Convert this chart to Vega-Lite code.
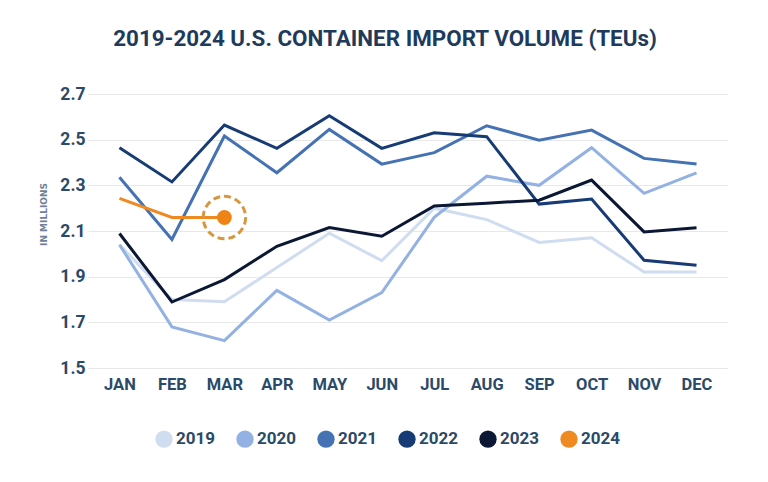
{
  "$schema": "https://vega.github.io/schema/vega-lite/v6.json",
  "width": 640,
  "height": 274,
  "autosize": {"type": "none"},
  "padding": {"left": 88, "top": 94, "right": 40, "bottom": 114},
  "background": "white",
  "title": {
    "text": "2019-2024 U.S. CONTAINER IMPORT VOLUME (TEUs)",
    "font": "Roboto, sans-serif",
    "fontSize": 22.4,
    "fontWeight": "bold",
    "color": "#1f3b5b",
    "anchor": "middle",
    "frame": "group",
    "dx": -23,
    "offset": 35
  },
  "config": {
    "view": {"stroke": null},
    "font": "Roboto, sans-serif"
  },
  "data": {
    "values": [
      {"year": "2019", "month": "JAN", "teu": 2.04},
      {"year": "2019", "month": "FEB", "teu": 1.80},
      {"year": "2019", "month": "MAR", "teu": 1.79},
      {"year": "2019", "month": "APR", "teu": 1.94},
      {"year": "2019", "month": "MAY", "teu": 2.09},
      {"year": "2019", "month": "JUN", "teu": 1.97},
      {"year": "2019", "month": "JUL", "teu": 2.20},
      {"year": "2019", "month": "AUG", "teu": 2.15},
      {"year": "2019", "month": "SEP", "teu": 2.05},
      {"year": "2019", "month": "OCT", "teu": 2.07},
      {"year": "2019", "month": "NOV", "teu": 1.92},
      {"year": "2019", "month": "DEC", "teu": 1.92},
      {"year": "2020", "month": "JAN", "teu": 2.04},
      {"year": "2020", "month": "FEB", "teu": 1.68},
      {"year": "2020", "month": "MAR", "teu": 1.62},
      {"year": "2020", "month": "APR", "teu": 1.84},
      {"year": "2020", "month": "MAY", "teu": 1.71},
      {"year": "2020", "month": "JUN", "teu": 1.83},
      {"year": "2020", "month": "JUL", "teu": 2.16},
      {"year": "2020", "month": "AUG", "teu": 2.34},
      {"year": "2020", "month": "SEP", "teu": 2.30},
      {"year": "2020", "month": "OCT", "teu": 2.465},
      {"year": "2020", "month": "NOV", "teu": 2.265},
      {"year": "2020", "month": "DEC", "teu": 2.355},
      {"year": "2021", "month": "JAN", "teu": 2.335},
      {"year": "2021", "month": "FEB", "teu": 2.063},
      {"year": "2021", "month": "MAR", "teu": 2.516},
      {"year": "2021", "month": "APR", "teu": 2.355},
      {"year": "2021", "month": "MAY", "teu": 2.545},
      {"year": "2021", "month": "JUN", "teu": 2.393},
      {"year": "2021", "month": "JUL", "teu": 2.443},
      {"year": "2021", "month": "AUG", "teu": 2.561},
      {"year": "2021", "month": "SEP", "teu": 2.498},
      {"year": "2021", "month": "OCT", "teu": 2.542},
      {"year": "2021", "month": "NOV", "teu": 2.418},
      {"year": "2021", "month": "DEC", "teu": 2.393},
      {"year": "2022", "month": "JAN", "teu": 2.465},
      {"year": "2022", "month": "FEB", "teu": 2.315},
      {"year": "2022", "month": "MAR", "teu": 2.564},
      {"year": "2022", "month": "APR", "teu": 2.462},
      {"year": "2022", "month": "MAY", "teu": 2.605},
      {"year": "2022", "month": "JUN", "teu": 2.462},
      {"year": "2022", "month": "JUL", "teu": 2.53},
      {"year": "2022", "month": "AUG", "teu": 2.513},
      {"year": "2022", "month": "SEP", "teu": 2.218},
      {"year": "2022", "month": "OCT", "teu": 2.24},
      {"year": "2022", "month": "NOV", "teu": 1.972},
      {"year": "2022", "month": "DEC", "teu": 1.95},
      {"year": "2023", "month": "JAN", "teu": 2.089},
      {"year": "2023", "month": "FEB", "teu": 1.789},
      {"year": "2023", "month": "MAR", "teu": 1.887},
      {"year": "2023", "month": "APR", "teu": 2.033},
      {"year": "2023", "month": "MAY", "teu": 2.115},
      {"year": "2023", "month": "JUN", "teu": 2.077},
      {"year": "2023", "month": "JUL", "teu": 2.21},
      {"year": "2023", "month": "AUG", "teu": 2.222},
      {"year": "2023", "month": "SEP", "teu": 2.235},
      {"year": "2023", "month": "OCT", "teu": 2.323},
      {"year": "2023", "month": "NOV", "teu": 2.096},
      {"year": "2023", "month": "DEC", "teu": 2.114},
      {"year": "2024", "month": "JAN", "teu": 2.243},
      {"year": "2024", "month": "FEB", "teu": 2.159},
      {"year": "2024", "month": "MAR", "teu": 2.159}
    ]
  },
  "encoding": {
    "x": {
      "field": "month",
      "type": "ordinal",
      "sort": ["JAN","FEB","MAR","APR","MAY","JUN","JUL","AUG","SEP","OCT","NOV","DEC"],
      "scale": {"type": "point", "padding": 0.6},
      "axis": {
        "title": null,
        "labelAngle": 0,
        "domain": false,
        "ticks": false,
        "grid": false,
        "labelPadding": 8,
        "labelFontSize": 16.5,
        "labelFontWeight": "bold",
        "labelColor": "#2b4a68"
      }
    },
    "y": {
      "field": "teu",
      "type": "quantitative",
      "scale": {"domain": [1.5, 2.7], "zero": false, "nice": false},
      "axis": {
        "title": "IN MILLIONS",
        "titleFontSize": 9,
        "titleFontWeight": "bold",
        "titleColor": "#6f8196",
        "titleFont": "DejaVu Sans, sans-serif",
        "titleAngle": -90,
        "titleX": -45,
        "titleY": 120,
        "titleAlign": "center",
        "titleBaseline": "middle",
        "values": [1.5, 1.7, 1.9, 2.1, 2.3, 2.5, 2.7],
        "format": ".1f",
        "domain": false,
        "ticks": false,
        "labelPadding": 3,
        "labelFontSize": 17.5,
        "labelFontWeight": "bold",
        "labelColor": "#2b4a68",
        "gridColor": "#e8e8e8",
        "gridWidth": 1
      }
    }
  },
  "layer": [
    {
      "mark": {"type": "line", "strokeWidth": 3, "strokeJoin": "miter"},
      "encoding": {
        "color": {
          "field": "year",
          "type": "nominal",
          "scale": {
            "domain": ["2019","2020","2021","2022","2023","2024"],
            "range": ["#d0dcef","#93b1e2","#4472b2","#173b74","#0b1733","#ef8a22"]
          },
          "legend": {
            "title": null,
            "orient": "none",
            "direction": "horizontal",
            "legendX": 67,
            "legendY": 336,
            "symbolType": "circle",
            "symbolSize": 300,
            "symbolStrokeWidth": 0,
            "labelFontSize": 17,
            "labelFontWeight": "bold",
            "labelColor": "#2b4a68",
            "labelOffset": 3,
            "columnPadding": 20,
            "encode": {
              "symbols": {"update": {"fill": {"scale": "color", "field": "value"}, "strokeWidth": {"value": 0}}}
            }
          }
        }
      }
    },
    {
      "transform": [{"filter": "datum.year == '2024' && datum.month == 'MAR'"}],
      "mark": {"type": "point", "shape": "circle", "filled": false, "size": 1800, "stroke": "#d8963f", "strokeWidth": 3, "strokeDash": [7, 4], "opacity": 1}
    },
    {
      "transform": [{"filter": "datum.year == '2024' && datum.month == 'MAR'"}],
      "mark": {"type": "point", "shape": "circle", "filled": true, "size": 220, "color": "#ef8416", "opacity": 1}
    }
  ]
}
